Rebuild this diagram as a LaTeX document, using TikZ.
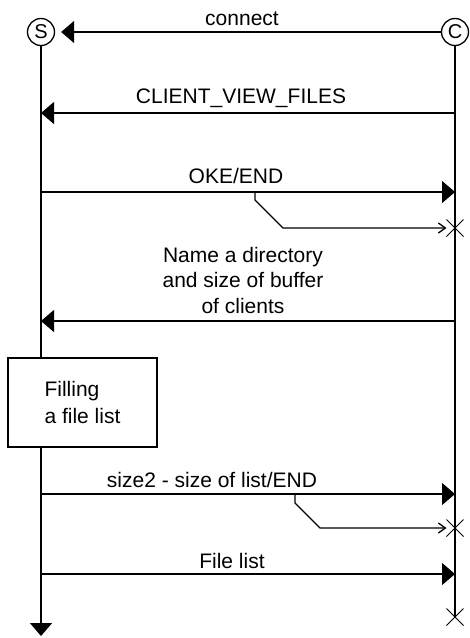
\documentclass[tikz,border=0pt]{standalone}
\usepackage{fontspec}
\setmainfont{Liberation Sans}
\usetikzlibrary{arrows.meta,shapes.misc}

\begin{document}
\begin{tikzpicture}[x=1pt, y=-1pt, line width=1.3pt,
    party/.style={draw, circle, minimum size=27pt, inner sep=0pt, font=\fontsize{20}{20}\selectfont},
    msg/.style={-{Triangle[length=13pt, width=22pt]}},
    reply/.style={-{Straight Barb[length=7pt, width=10pt]}},
    xmark/.style={draw, cross out, minimum size=16pt, inner sep=0pt, line width=1pt},
    lbl/.style={anchor=base, font=\fontsize{21}{25.5}\selectfont, align=center},
    procbox/.style={draw, minimum width=149pt, minimum height=89pt, align=left, font=\fontsize{21}{27}\selectfont}]
    \useasboundingbox (0,0) rectangle (470,638);

    \node[party] (srv) at (41,32) {S};
    \node[party] (cli) at (455,32) {C};
    \node[procbox] (fill) at (82.5,402.5) {Filling\\a file list};
    \node[xmark] (x1) at (455,228) {};
    \node[xmark] (x2) at (455,528) {};
    \node[xmark] (x3) at (455,617) {};

    % lifelines
    \coordinate (srvend) at (41,636);
    \draw (srv) -- (srv |- fill.north);
    \draw[msg] (srv |- fill.south) -- (srvend);
    \draw (cli) -- (x3.center);

    \foreach \n/\y in {1/113, 2/192, 3/321, 4/494, 5/574} {
      \coordinate (s\n) at (41,\y);
      \coordinate (c\n) at (455,\y);
    }

    % messages
    \draw[msg, shorten >=6pt] (cli) -- (srv);
    \draw[msg] (c1) -- (s1);
    \draw[msg] (s2) -- (c2);
    \draw[msg] (c3) -- (s3);
    \draw[msg] (s4) -- (c4);
    \draw[msg] (s5) -- (c5);

    \coordinate (b1) at (255,192);
    \coordinate (b2) at (295,494);
    \draw[reply] (b1) -- ++(0,8) -- ++(28,28) -- (x1.west);
    \draw[reply] (b2) -- ++(0,9) -- ++(25,25) -- (x2.west);

    \node[lbl] (connlbl) at (242,25) {connect};
    \node[lbl] (cvflbl) at (241,103) {CLIENT\_VIEW\_FILES};
    \node[lbl] (okelbl) at (236,183) {OKE/END};
    \node[lbl] (dirlbl) at (243,313) {Name a directory\\and size of buffer\\of clients};
    \node[lbl] (sizelbl) at (212,487) {size2 - size of list/END};
    \node[lbl] (listlbl) at (232,568) {File list};
\end{tikzpicture}
\end{document}
